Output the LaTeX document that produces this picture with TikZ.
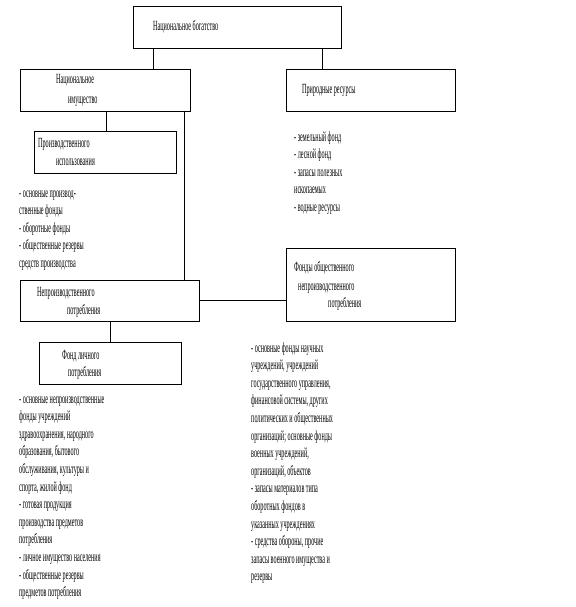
\documentclass[tikz,border=0pt]{standalone}
\usepackage{fontspec}
\setmainfont[FakeStretch=0.44]{Liberation Serif}
\tikzset{
  box/.style={draw,line width=0.8pt},
  txt/.style={anchor=base west,font=\fontsize{14pt}{17pt}\selectfont}
}
\begin{document}
\begin{tikzpicture}[x=1pt,y=-1pt,line cap=round,every node/.style={inner sep=0pt}]
  \useasboundingbox (0,0) rectangle (575,607);
  \def\ls{17.6}
  % boxes
  \node[box,minimum width=208pt,minimum height=42pt] (nb) at (237,27) {};
  \node[box,minimum width=170pt,minimum height=42pt] (ni) at (105,90) {};
  \node[box,minimum width=169pt,minimum height=42pt] (pr) at (370.5,90) {};
  \node[box,minimum width=142pt,minimum height=42pt] (pi) at (105,152) {};
  \node[box,minimum width=179pt,minimum height=41pt] (np) at (109.5,300.5) {};
  \node[box,minimum width=169pt,minimum height=73pt] (fo) at (370.5,284.5) {};
  \node[box,minimum width=142pt,minimum height=42pt] (fl) at (110,363) {};
  % box texts
  \node[txt] (nbt) at (153,31) {Национальное богатство};
  \node[txt] (nit1) at (56,84) {Национальное};
  \node[txt] (nit2) at (68,103) {имущество};
  \node[txt] (prt) at (302,94) {Природные ресурсы};
  \node[txt] (pit1) at (38,147) {Производственного};
  \node[txt] (pit2) at (56,165) {использования};
  \node[txt] (npt1) at (37,296) {Непроизводственного};
  \node[txt] (npt2) at (67,314) {потребления};
  \node[txt] (fot1) at (294,271) {Фонды общественного};
  \node[txt] (fot2) at (298,290) {непроизводственного};
  \node[txt] (fot3) at (328,307) {потребления};
  \node[txt] (flt1) at (62,359) {Фонд личного};
  \node[txt] (flt2) at (68,376) {потребления};
  % connectors
  \coordinate (xa) at (153,0);
  \coordinate (xb) at (322,0);
  \coordinate (xc) at (106,0);
  \coordinate (xd) at (184,0);
  \coordinate (xe) at (110,0);
  \draw[line width=0.8pt] (xa |- nb.south) -- (xa |- ni.north);
  \draw[line width=0.8pt] (xb |- nb.south) -- (xb |- pr.north);
  \draw[line width=0.8pt] (xc |- ni.south) -- (xc |- pi.north);
  \draw[line width=0.8pt] (xd |- ni.south) -- (xd |- np.north);
  \draw[line width=0.8pt] (np.east) -- (np.east -| fo.west);
  \draw[line width=0.8pt] (xe |- np.south) -- (xe |- fl.north);
  % lists
  \foreach \t [count=\i from 0] in {- основные производ-,ственные фонды,- оборотные фонды,- общественные резервы,средств производства}
    \node[txt] (la\i) at (19,{197+\ls*\i}) {\t};
  \foreach \t [count=\i from 0] in {- земельный фонд,- лесной фонд,- запасы полезных,ископаемых,- водные ресурсы}
    \node[txt] (lb\i) at (294,{141+\ls*\i}) {\t};
  \foreach \t [count=\i from 0] in {- основные непроизводственные,фонды учреждений,{здравоохранения, народного},{образования, бытового},{обслуживания, культуры и},{спорта, жилой фонд},- готовая продукция,производства предметов,потребления,- личное имущество населения,- общественные резервы,предметов потребления}
    \node[txt] (lc\i) at (19,{403+\ls*\i}) {\t};
  \foreach \t [count=\i from 0] in {- основные фонды научных,{учреждений, учреждений},{государственного управления,},{финансовой системы, других},политических и общественных,{организаций; основные фонды},{военных учреждений,},{организаций, объектов},- запасы материалов типа,оборотных фондов в,указанных учреждениях,{- средства обороны, прочие},запасы военного имущества и,резервы}
    \node[txt] (ld\i) at (251,{352+\ls*\i}) {\t};
\end{tikzpicture}
\end{document}
